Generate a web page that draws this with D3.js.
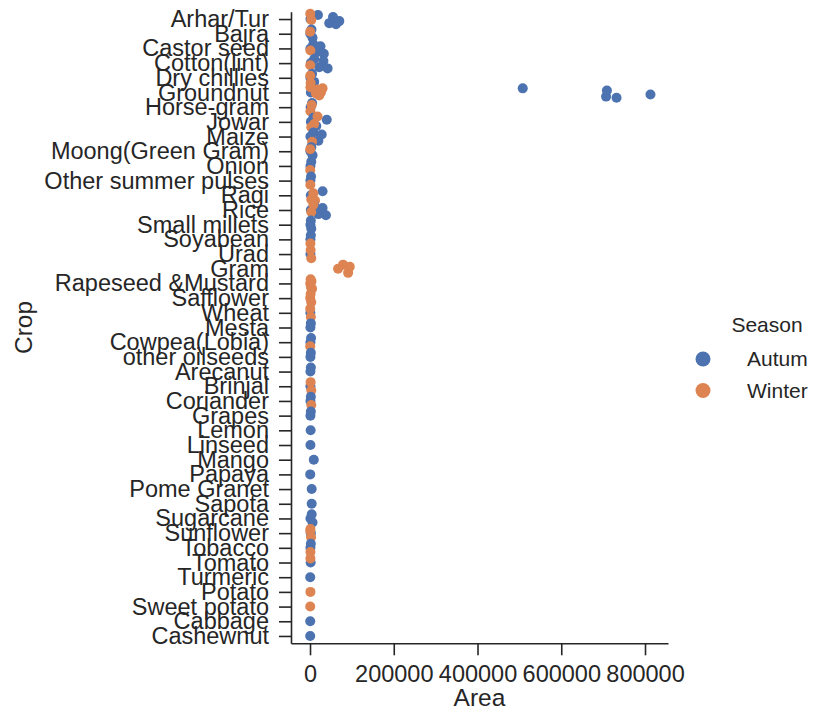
<!DOCTYPE html>
<html>
<head>
<meta charset="UTF-8">
<title>Crop area by season</title>
<style>
body { margin: 0; background: #ffffff; }
text { font-family: "Liberation Sans", Arial, sans-serif; fill: #262626; }
</style>
</head>
<body>
<script src="https://cdn.jsdelivr.net/npm/d3@7"></script>
<script>
// categories, top to bottom
var crops = ["Arhar/Tur", "Bajra", "Castor seed", "Cotton(lint)", "Dry chillies",
  "Groundnut", "Horse-gram", "Jowar", "Maize", "Moong(Green Gram)", "Onion",
  "Other summer pulses", "Ragi", "Rice", "Small millets", "Soyabean", "Urad",
  "Gram", "Rapeseed &Mustard", "Safflower", "Wheat", "Mesta", "Cowpea(Lobia)",
  "other oilseeds", "Arecanut", "Brinjal", "Coriander", "Grapes", "Lemon",
  "Linseed", "Mango", "Papaya", "Pome Granet", "Sapota", "Sugarcane",
  "Sunflower", "Tobacco", "Tomato", "Turmeric", "Potato", "Sweet potato",
  "Cabbage", "Cashewnut"];

var seasons = ["Autum", "Winter"];

// area values per crop (same order as crops)
var autumArea = [
  [1000, 19000, 46000, 55000, 62000, 70000],
  [800, 3500, 6000],
  [1000, 8000, 15000, 25000, 33000],
  [2000, 10000, 22000, 32000, 42000],
  [1000, 5000, 10000],
  [2000, 508000, 707000, 709000, 732000, 813000],
  [1500, 5000],
  [2000, 8000, 15000, 40000],
  [1000, 8000, 20000, 28000],
  [1000, 3000, 6000],
  [1000, 3000],
  [1000, 2500],
  [2000, 30000],
  [2000, 10000, 20000, 30000, 38000],
  [1000, 2000, 3000],
  [1000, 2000],
  [1000],
  [],
  [],
  [],
  [800],
  [1000, 2000],
  [1000, 2500],
  [1000, 2000],
  [1000, 2000],
  [1000],
  [1000, 2000],
  [1000, 2000],
  [1500],
  [1000],
  [9000],
  [500],
  [4000],
  [4000],
  [1000, 4000, 6000],
  [2000],
  [1000, 2000],
  [1500],
  [500],
  [],
  [],
  [500],
  [500]
];

var winterArea = [
  [500, 3000],
  [300],
  [1000],
  [500],
  [500, 1500],
  [1000, 14000, 18000, 22000, 26000, 30000],
  [1000, 4000],
  [3000, 10000, 18000],
  [5000],
  [500],
  [500],
  [800],
  [3000, 8000, 12000],
  [3000, 8000],
  [],
  [1000],
  [1500, 3000],
  [67000, 79000, 91000, 95000],
  [500, 1500, 2500, 3500, 5000],
  [500, 1500, 3000],
  [500, 2000],
  [],
  [500],
  [],
  [],
  [1500, 3000],
  [3000],
  [],
  [], [], [], [], [], [], [],
  [1000, 2500, 500],
  [1000],
  [1000],
  [],
  [1000],
  [500],
  [],
  []
];

var xTicks = [0, 200000, 400000, 600000, 800000];

var colors = { "Autum": "#4c72b0", "Winter": "#dd8452" };

// fixed strip jitter, in category steps
var jitterPattern = [0, -0.28, 0.28, -0.14, 0.36, 0.14, -0.36, 0.06, -0.2, 0.2];

var width = 814, height = 713;
var svg = d3.select("body").append("svg")
  .attr("width", width)
  .attr("height", height);

var x = d3.scaleLinear()
  .domain([-45400, 854900])
  .range([291, 668]);

var y = d3.scalePoint()
  .domain(crops)
  .range([11.7, 643.3])
  .padding(0.5);

// build points
var points = [];
crops.forEach(function(crop, i) {
  var k = 0;
  [autumArea, winterArea].forEach(function(arr, s) {
    arr[i].forEach(function(v) {
      points.push({crop: crop, season: seasons[s], area: v,
                   jit: jitterPattern[k % jitterPattern.length]});
      k++;
    });
  });
});

// axes
var yAxis = svg.append("g")
  .attr("transform", "translate(291,0)")
  .call(d3.axisLeft(y).tickSize(12).tickPadding(10).tickSizeOuter(0));

var xAxis = svg.append("g")
  .attr("transform", "translate(0,643.3)")
  .call(d3.axisBottom(x).tickValues(xTicks).tickFormat(d3.format("d"))
    .tickSize(12).tickPadding(10).tickSizeOuter(0));

[yAxis, xAxis].forEach(function(g) {
  g.selectAll("path, line").attr("stroke", "#262626").attr("stroke-width", 1.6);
  g.selectAll("text")
    .attr("fill", "#262626")
    .style("font-size", "23.5px")
    .style("font-family", '"Liberation Sans", Arial, sans-serif');
});

// points
svg.append("g")
  .selectAll("circle")
  .data(points)
  .enter().append("circle")
  .attr("cx", function(d) { return x(d.area); })
  .attr("cy", function(d) { return y(d.crop) + d.jit * y.step(); })
  .attr("r", 5)
  .attr("fill", function(d) { return colors[d.season]; });

// axis labels
svg.append("text")
  .attr("transform", "translate(32,327.5) rotate(-90)")
  .attr("text-anchor", "middle")
  .style("font-size", "24.5px")
  .text("Crop");

svg.append("text")
  .attr("x", 479.5)
  .attr("y", 706)
  .attr("text-anchor", "middle")
  .style("font-size", "24.5px")
  .text("Area");

// legend
var legend = svg.append("g");
legend.append("text")
  .attr("x", 767)
  .attr("y", 332)
  .attr("text-anchor", "middle")
  .style("font-size", "21px")
  .text("Season");

seasons.forEach(function(s, i) {
  var cy = 359 + i * 31.5;
  legend.append("circle")
    .attr("cx", 703)
    .attr("cy", cy)
    .attr("r", 7.5)
    .attr("fill", colors[s]);
  legend.append("text")
    .attr("x", 747)
    .attr("y", cy + 7)
    .style("font-size", "21px")
    .text(s);
});
</script>
</body>
</html>
